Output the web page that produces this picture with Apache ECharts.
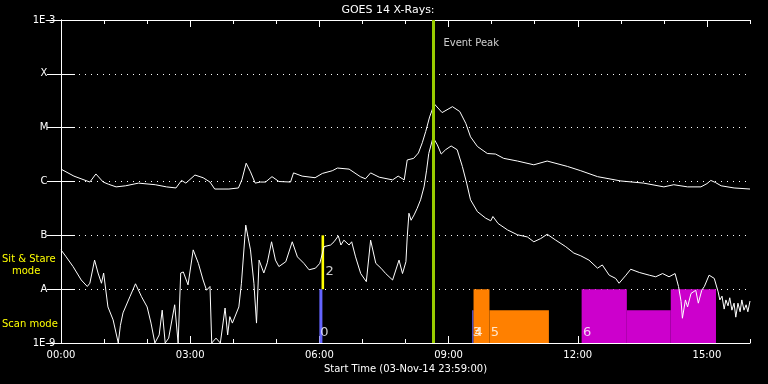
<!DOCTYPE html>
<html><head><meta charset="utf-8">
<script src="https://cdn.jsdelivr.net/npm/echarts@6/dist/echarts.min.js"></script>
<style>html,body{margin:0;padding:0;background:#000}#c{width:768px;height:384px}</style>
</head><body><div id="c"></div>
<script>
// x: hours since start, y: log10 of X-ray flux (W/m^2)
const xTickLabels = ['00:00','03:00','06:00','09:00','12:00','15:00'];
const xTickHours = [0,3,6,9,12,15];
const yTickLabels = ['1E-9','A','B','C','M','X','1E-3'];

const longChannel = [
[0.00,-5.77],[0.30,-5.90],[0.67,-6.01],[0.81,-5.86],[0.98,-6.01],[1.10,-6.05],[1.28,-6.10],[1.50,-6.08],
[1.80,-6.03],[2.19,-6.06],[2.45,-6.10],[2.67,-6.12],[2.80,-5.98],[2.90,-6.03],[3.11,-5.88],[3.30,-5.93],
[3.46,-6.01],[3.57,-6.14],[3.90,-6.14],[4.12,-6.12],[4.20,-5.97],[4.30,-5.66],[4.40,-5.82],[4.51,-6.03],
[4.63,-6.01],[4.75,-6.01],[4.90,-5.91],[5.06,-6.00],[5.33,-6.01],[5.40,-5.84],[5.60,-5.90],[5.90,-5.93],
[6.07,-5.85],[6.30,-5.80],[6.42,-5.75],[6.69,-5.77],[6.95,-5.91],[7.07,-5.95],[7.19,-5.84],[7.39,-5.92],
[7.70,-5.97],[7.83,-5.90],[7.97,-5.97],[8.04,-5.60],[8.19,-5.57],[8.30,-5.47],[8.39,-5.28],[8.47,-5.07],
[8.56,-4.80],[8.67,-4.56],[8.85,-4.72],[9.09,-4.61],[9.26,-4.70],[9.40,-4.92],[9.51,-5.17],[9.67,-5.35],
[9.90,-5.48],[10.09,-5.49],[10.28,-5.57],[10.60,-5.62],[10.98,-5.69],[11.29,-5.62],[11.76,-5.72],[12.07,-5.80],
[12.46,-5.91],[13.00,-5.99],[13.53,-6.03],[14.00,-6.10],[14.23,-6.06],[14.55,-6.10],[14.86,-6.10],[15.00,-6.04],
[15.09,-5.98],[15.20,-6.02],[15.33,-6.08],[15.63,-6.12],[16.00,-6.14]
];

const shortChannel = [
[0.00,-7.27],[0.12,-7.40],[0.28,-7.58],[0.47,-7.83],[0.61,-7.95],[0.67,-7.89],[0.78,-7.46],[0.86,-7.70],
[0.94,-7.89],[0.99,-7.70],[1.09,-8.33],[1.21,-8.57],[1.33,-9.00],[1.38,-8.67],[1.44,-8.44],[1.60,-8.14],
[1.73,-7.90],[1.87,-8.14],[2.00,-8.33],[2.09,-8.63],[2.18,-9.00],[2.28,-8.85],[2.35,-8.39],[2.42,-9.00],
[2.50,-8.91],[2.64,-8.29],[2.72,-9.00],[2.78,-7.70],[2.84,-7.68],[2.95,-7.92],[3.07,-7.27],[3.19,-7.52],
[3.30,-7.83],[3.38,-8.02],[3.46,-7.95],[3.50,-9.00],[3.60,-8.91],[3.70,-9.00],[3.81,-8.35],[3.87,-8.85],
[3.92,-8.51],[3.98,-8.63],[4.13,-8.33],[4.19,-7.89],[4.29,-6.81],[4.40,-7.27],[4.48,-7.89],[4.54,-8.63],
[4.60,-7.46],[4.71,-7.70],[4.79,-7.51],[4.89,-7.12],[4.98,-7.46],[5.06,-7.58],[5.22,-7.49],[5.37,-7.12],
[5.49,-7.40],[5.64,-7.52],[5.76,-7.64],[5.91,-7.61],[6.01,-7.52],[6.11,-7.21],[6.26,-7.18],[6.34,-7.12],
[6.44,-7.01],[6.50,-7.18],[6.57,-7.09],[6.69,-7.18],[6.75,-7.12],[6.84,-7.40],[6.96,-7.71],[7.09,-7.86],
[7.19,-7.09],[7.31,-7.52],[7.43,-7.61],[7.54,-7.71],[7.70,-7.83],[7.85,-7.46],[7.93,-7.71],[8.01,-7.49],
[8.04,-7.03],[8.08,-6.59],[8.13,-6.72],[8.20,-6.62],[8.27,-6.50],[8.35,-6.34],[8.43,-6.10],[8.49,-5.79],
[8.54,-5.48],[8.64,-5.18],[8.74,-5.32],[8.83,-5.49],[8.93,-5.41],[9.06,-5.34],[9.20,-5.41],[9.32,-5.72],
[9.42,-6.03],[9.51,-6.34],[9.67,-6.56],[9.86,-6.68],[9.98,-6.73],[10.03,-6.65],[10.15,-6.78],[10.37,-6.90],
[10.60,-6.99],[10.83,-7.03],[10.98,-7.12],[11.14,-7.06],[11.29,-6.98],[11.49,-7.09],[11.72,-7.21],[11.91,-7.33],
[12.07,-7.38],[12.26,-7.46],[12.46,-7.61],[12.57,-7.55],[12.73,-7.74],[12.88,-7.80],[12.96,-7.89],[13.12,-7.74],
[13.23,-7.63],[13.43,-7.69],[13.66,-7.74],[13.81,-7.77],[13.97,-7.71],[14.12,-7.77],[14.26,-7.71],[14.34,-7.95],
[14.40,-8.23],[14.43,-8.54],[14.50,-8.20],[14.55,-8.33],[14.63,-8.08],[14.74,-8.02],[14.80,-8.26],[14.88,-8.02],
[14.94,-7.95],[15.05,-7.74],[15.17,-7.80],[15.26,-8.05],[15.30,-8.20],[15.35,-8.13],[15.40,-8.37],[15.44,-8.20],
[15.49,-8.31],[15.53,-8.16],[15.58,-8.39],[15.63,-8.26],[15.67,-8.52],[15.72,-8.26],[15.77,-8.42],[15.81,-8.20],
[15.86,-8.39],[15.91,-8.29],[15.95,-8.42],[16.00,-8.22]
];

const eventPeak = 8.64;

// observing-mode bars
const barStart = [6.00, 6.05, 9.55, 9.58, 9.95, 12.09, 13.14, 14.16];
const barEnd   = [6.07, 6.11, 9.58, 9.95, 11.33, 13.14, 14.16, 15.21];
const barLow   = [-9, -8, -9, -9, -9, -9, -9, -9];
const barHigh  = [-8, -7, -8.39, -8, -8.39, -8, -8.39, -8];
const barMode  = ['marker','sit','marker','scanA','scanA','scanB','scanB','scanB'];

const obsLabels = ['0','2','3','4','5','6'];
const obsLabelX = [6.02, 6.14, 9.56, 9.60, 9.98, 12.12];
const obsLabelY = [-8.81, -7.68, -8.81, -8.81, -8.81, -8.81];

const modeColors = {marker:'#6464ff', sit:'#ffff00', scanA:'#ff8000', scanB:'#cc00cc'};
const FONT = 'DejaVu Sans';

const chart = echarts.init(document.getElementById('c'));
const minorHours = [];
for (let h = 0; h <= 16; h++) if (h % 3) minorHours.push(h);

function xAxisBase(pos){
  return {type:'value', min:0, max:16, interval:1, position:pos,
    axisLine:{show:true, lineStyle:{color:'#fff', width:1}},
    splitLine:{show:false}};
}
const xAxes = [
  Object.assign(xAxisBase('bottom'), {
    axisTick:{show:true, inside:true, length:7, customValues:xTickHours, lineStyle:{color:'#fff'}},
    axisLabel:{show:true, color:'#fff', fontFamily:FONT, fontSize:10, margin:7, customValues:xTickHours,
      formatter:v => xTickLabels[xTickHours.indexOf(v)] || ''},
    name:'Start Time (03-Nov-14 23:59:00)', nameLocation:'middle', nameGap:19,
    nameTextStyle:{color:'#fff', fontFamily:FONT, fontSize:10}
  }),
  Object.assign(xAxisBase('bottom'), {
    axisLine:{show:false},
    axisTick:{show:true, inside:true, length:4, customValues:minorHours, lineStyle:{color:'#fff'}},
    axisLabel:{show:false}
  }),
  Object.assign(xAxisBase('top'), {
    axisTick:{show:true, inside:true, length:7, customValues:xTickHours, lineStyle:{color:'#fff'}},
    axisLabel:{show:false}
  }),
  Object.assign(xAxisBase('top'), {
    axisLine:{show:false},
    axisTick:{show:true, inside:true, length:4, customValues:minorHours, lineStyle:{color:'#fff'}},
    axisLabel:{show:false}
  })
];

const option = {
  backgroundColor:'#000',
  animation:false,
  grid:{left:61, right:18, top:20, bottom:41, containLabel:false},
  xAxis: xAxes,
  yAxis:[
    {type:'value', min:-9, max:-3, interval:1, position:'left',
      axisLine:{show:true, lineStyle:{color:'#fff', width:1}},
      axisTick:{show:true, inside:true, length:14, lineStyle:{color:'#fff'}},
      axisLabel:{color:'#fff', fontFamily:FONT, fontSize:10, align:'center', margin:17,
        formatter:v => yTickLabels[Math.round(v + 9)]},
      splitLine:{show:true, lineStyle:{color:'#fff', width:1, type:[1,5]}}},
    {type:'value', min:-9, max:-3, interval:1, position:'right',
      axisLine:{show:true, lineStyle:{color:'#fff', width:1}},
      axisTick:{show:true, inside:true, length:14, lineStyle:{color:'#fff'}},
      axisLabel:{show:false}, splitLine:{show:false}}
  ],
  graphic:[
    {type:'text', x:388, y:10, z:100, style:{text:'GOES 14 X-Rays:', fill:'#fff', font:'11px "DejaVu Sans"', textAlign:'center', textVerticalAlign:'middle'}},
    {type:'text', x:2, y:259, z:100, style:{text:'Sit & Stare', fill:'#ffff00', font:'10px "DejaVu Sans"', textAlign:'left', textVerticalAlign:'middle'}},
    {type:'text', x:12, y:271, z:100, style:{text:'mode', fill:'#ffff00', font:'10px "DejaVu Sans"', textAlign:'left', textVerticalAlign:'middle'}},
    {type:'text', x:2, y:324, z:100, style:{text:'Scan mode', fill:'#ffff00', font:'10px "DejaVu Sans"', textAlign:'left', textVerticalAlign:'middle'}}
  ],
  series:[
    {type:'custom', z:1, silent:true,
      data: barStart.map((s,i) => [s, barEnd[i], barLow[i], barHigh[i]]),
      encode:{x:[0,1], y:[2,3]},
      renderItem:(params, api) => {
        const i = params.dataIndex;
        const p0 = api.coord([api.value(0), api.value(3)]);
        const p1 = api.coord([api.value(1), api.value(2)]);
        return {type:'rect', shape:{x:p0[0], y:p0[1], width:p1[0]-p0[0], height:p1[1]-p0[1]},
          style:{fill:modeColors[barMode[i]]}};
      }},
    {type:'line', z:3, data:longChannel, symbol:'none', lineStyle:{color:'#fff', width:1}, silent:true},
    {type:'line', z:3, data:shortChannel, symbol:'none', lineStyle:{color:'#fff', width:1}, silent:true,
      markLine:{silent:true, symbol:['none','none'], label:{show:false},
        lineStyle:{color:'#99cc00', width:3, type:'solid'}, data:[{xAxis:eventPeak}]}},
    {type:'scatter', z:5, symbolSize:0, silent:true,
      data: obsLabels.map((t,i) => ({value:[obsLabelX[i], obsLabelY[i]], name:t})),
      label:{show:true, position:'right', distance:0, color:'#fff', fontFamily:FONT, fontSize:13,
        formatter:p => p.name}},
    {type:'scatter', z:5, symbolSize:0, silent:true,
      data:[{value:[8.88, -3.43], name:'Event Peak'}],
      label:{show:true, position:'right', distance:0, color:'#fff', fontFamily:FONT, fontSize:10,
        formatter:p => p.name}}
  ]
};
chart.setOption(option);
</script>
</body></html>
